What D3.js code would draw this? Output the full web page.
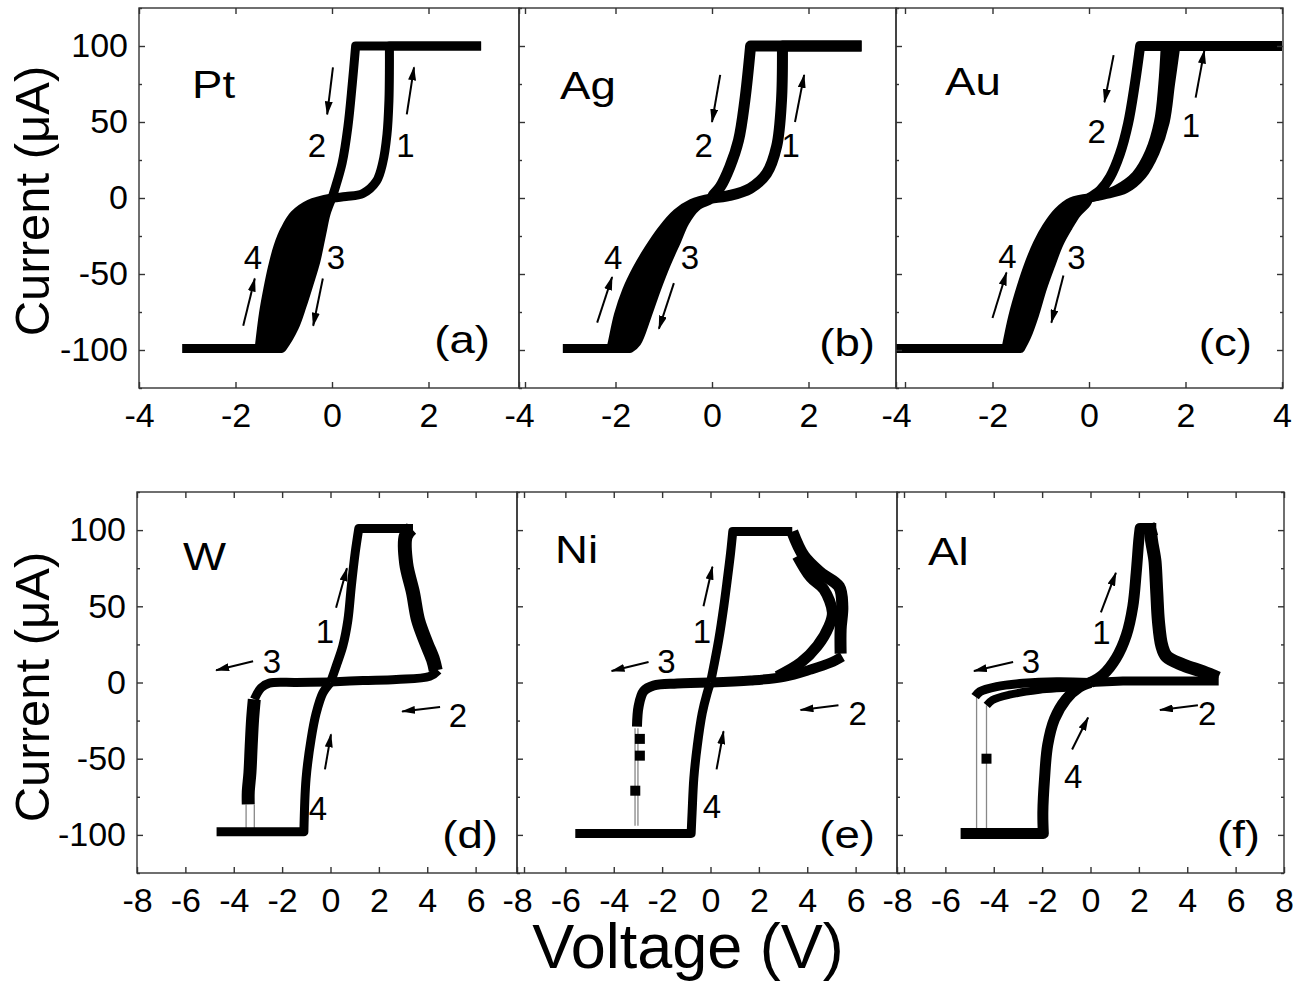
<!DOCTYPE html>
<html>
<head>
<meta charset="utf-8">
<script src="https://cdn.jsdelivr.net/npm/d3@7/dist/d3.min.js"></script>
<style>
    body { margin: 0; background: #fff; }
    svg { display: block; }
    text { font-family: Arial, "Liberation Sans", sans-serif; fill: #000; }
</style>
</head>
<body>
<svg id="chart" width="1293" height="986"></svg>
<script>
// ---- I-V sweeps, [voltage V, current uA] ----
const topTicks = [-4, -2, 0, 2, 4];
const bottomTicks = [-8, -6, -4, -2, 0, 2, 4, 6, 8];
const currentTicks = [-100, -50, 0, 50, 100];
const currentMinorTicks = [-125, -75, -25, 25, 75, 125];

// (a) Pt
const ptSweep1 = [[0, 0], [0.29, 1], [0.64, 3], [0.92, 11], [1.05, 23], [1.14, 42], [1.18, 64], [1.19, 86], [1.19, 100], [3.09, 100]];
const ptSweep2 = [[3.09, 100], [0.49, 100], [0.42, 75], [0.33, 47], [0.21, 23], [0.05, 5], [0, 0]];
const ptSweep3 = [[0, 0], [-0.12, -10], [-0.21, -23], [-0.33, -41], [-0.47, -56], [-0.62, -71], [-0.78, -85], [-1.02, -98], [-1.05, -99], [-3.1, -99]];
const ptSweep4 = [[-3.1, -99], [-1.51, -99], [-1.42, -76], [-1.33, -60], [-1.23, -45], [-1.12, -32], [-0.98, -21], [-0.78, -11], [-0.47, -4], [0, 0]];

// (b) Ag
const agSweep1 = [[0, 0], [0.37, 1.7], [0.79, 6.3], [1.13, 16], [1.34, 34], [1.44, 64], [1.46, 100], [3.1, 100]];
const agSweep2 = [[3.1, 100], [0.8, 100], [0.68, 64], [0.55, 38], [0.37, 20.5], [0.17, 7.2], [0.03, 2], [0, 0]];
const agSweep3 = [[0, 0], [-0.04, -1.3], [-0.32, -5.7], [-0.56, -15.7], [-0.73, -28], [-0.94, -43], [-1.15, -60], [-1.35, -78], [-1.56, -95], [-1.7, -99], [-3.09, -99]];
const agSweep4 = [[-3.09, -99], [-2.1, -99], [-2.08, -97], [-1.94, -77], [-1.77, -61], [-1.56, -47], [-1.32, -34], [-1.04, -21], [-0.73, -10], [-0.42, -3.5], [0, 0]];

// (c) Au
const auSweep1a = [[0, 0], [0.25, 2], [0.59, 6], [0.97, 15], [1.25, 30], [1.44, 50], [1.53, 75], [1.58, 100]];
const auSweep1b = [[0, 0], [0.32, 2], [0.76, 6], [1.1, 15], [1.37, 30], [1.58, 50], [1.69, 75], [1.8, 100], [4, 100]];
const auSweep2 = [[4, 100], [1.06, 100], [0.95, 75], [0.81, 49], [0.64, 29], [0.44, 14], [0.23, 5], [0, 0]];
const auSweep3 = [[0, 0], [-0.05, -3.4], [-0.25, -10], [-0.43, -19], [-0.62, -30], [-0.79, -44], [-0.96, -59], [-1.13, -77], [-1.29, -91], [-1.42, -99], [-4, -99]];
const auSweep4 = [[-4, -99], [-1.72, -99], [-1.58, -78], [-1.41, -59], [-1.24, -43], [-1.07, -30], [-0.88, -19], [-0.64, -9], [-0.36, -2.4], [0, 0]];

// (d) W
const wSweep1 = [[0, 0], [0.24, 11], [0.51, 24], [0.72, 41], [0.86, 63], [1.02, 85], [1.17, 101], [3.41, 101]];
const wReset = [[3.35, 101], [3.11, 96], [3.13, 78], [3.41, 59], [3.62, 41], [3.96, 26], [4.24, 15], [4.35, 8]];
const wSweep2 = [[4.45, 8], [4.1, 4], [2.72, 2], [1.34, 1.3], [0, 0.4]];
const wSweep3 = [[0, 0.4], [-1.42, 0], [-2.53, -0.4], [-2.87, -3.5], [-3.15, -11]];
const wSweep3Drop = [[-3.15, -11], [-3.22, -24], [-3.28, -42], [-3.33, -59], [-3.4, -72], [-3.4, -80]];
const wJumpA = [[-3.49, -80], [-3.49, -98]];
const wJumpB = [[-3.15, -80], [-3.15, -98]];
const wSweep4 = [[-4.71, -98], [-1.1, -98], [-1.01, -63], [-0.8, -37], [-0.59, -20], [-0.32, -7], [0, 0]];

// (e) Ni
const niSweep1 = [[0, 0], [0.14, 11], [0.34, 28], [0.55, 50], [0.69, 67], [0.83, 85], [0.92, 99], [3.38, 99]];
const niResetA = [[3.38, 99], [3.86, 83], [4.55, 72], [5.31, 63], [5.45, 50], [5.38, 35], [5.38, 19]];
const niResetB = [[3.59, 83], [4.14, 69], [4.69, 61], [5.04, 46], [4.9, 37], [4.42, 24], [3.73, 13], [2.76, 4]];
const niSweep2 = [[5.45, 17], [4.97, 13], [4.14, 8.5], [3.04, 3.7], [1.66, 1.3], [0, 0]];
const niSweep3 = [[0, 0], [-1.38, -0.7], [-2.35, -2], [-2.76, -5.7], [-2.97, -15.5], [-3.04, -29]];
const niSweep3Points = [[-2.92, -37], [-2.92, -48], [-3.11, -71]];
const niJumpA = [[-3.0, -30], [-3.0, -94]];
const niJumpB = [[-3.12, -30], [-3.12, -94]];
const niSweep4 = [[-5.59, -99], [-0.8, -99], [-0.76, -85], [-0.69, -63], [-0.55, -42], [-0.34, -20], [-0.14, -7], [0, 0]];

// (f) Al
const alSweep1 = [[0, 0], [0.51, 5], [1.06, 16], [1.48, 31], [1.75, 50], [1.89, 72], [2.0, 94], [2.05, 101], [2.72, 101]];
const alReset = [[2.72, 101], [2.53, 99], [2.67, 79], [2.74, 59], [2.81, 40], [2.95, 24], [3.15, 17], [3.84, 11.5], [4.66, 7], [5.28, 3]];
const alSweep2 = [[5.3, 1], [4.1, 1], [1.34, 1], [0, 0]];
const alSweep3a = [[0, 0], [-1.4, 0.5], [-2.78, -0.5], [-3.88, -2.7], [-4.57, -6], [-4.77, -9.3]];
const alSweep3b = [[0, 0], [-0.59, -2.6], [-2.11, -4.8], [-3.35, -8], [-4.05, -11.5], [-4.29, -15]];
const alSweep3Points = [[-4.3, -50]];
const alJumpA = [[-4.71, -9], [-4.71, -99]];
const alJumpB = [[-4.3, -15], [-4.3, -99]];
const alSweep4 = [[-5.37, -99], [-1.95, -99], [-1.97, -85], [-1.9, -63], [-1.77, -41], [-1.49, -24], [-1.01, -11], [-0.46, -3], [0, 0]];

// sweep numbers [label, V, I] and direction arrows [from, to]
const ptMarks = [["1", 1.52, 27], ["2", -0.31, 27], ["3", 0.08, -47], ["4", -1.64, -47]];
const ptArrows = [[[1.55, 55], [1.7, 86]], [[0.02, 86], [-0.1, 55]], [[-0.19, -53], [-0.39, -84]], [[-1.84, -84], [-1.6, -53]]];
const agMarks = [["1", 1.63, 27], ["2", -0.17, 27], ["3", -0.46, -47], ["4", -2.05, -47]];
const agArrows = [[[1.72, 50], [1.91, 81]], [[0.17, 81], [0, 50]], [[-0.79, -56], [-1.1, -86]], [[-2.38, -82], [-2.07, -52]]];
const auMarks = [["1", 2.11, 40], ["2", 0.16, 36], ["3", -0.26, -47], ["4", -1.69, -46]];
const auArrows = [[[2.21, 66], [2.39, 97]], [[0.51, 94], [0.32, 63]], [[-0.53, -51], [-0.78, -82]], [[-2.0, -79], [-1.71, -49]]];
const wMarks = [["1", -0.23, 26], ["2", 5.27, -29], ["3", -2.42, 6], ["4", -0.52, -90]];
const wArrows = [[[0.23, 49], [0.68, 75]], [[4.53, -16], [2.96, -19]], [[-3.2, 14], [-4.73, 8]], [[-0.23, -57], [0.02, -34]]];
const niMarks = [["1", -0.35, 26], ["2", 6.08, -28], ["3", -1.82, 6], ["4", 0.06, -89]];
const niArrows = [[[-0.29, 50], [0.08, 76]], [[5.29, -15], [3.72, -18]], [[-2.56, 13.5], [-4.09, 7.5]], [[0.25, -57], [0.54, -32]]];
const alMarks = [["1", 0.45, 25], ["2", 4.82, -28], ["3", -2.46, 6], ["4", -0.72, -69]];
const alArrows = [[[0.43, 46], [1.05, 72]], [[4.44, -15], [2.87, -18]], [[-3.2, 13.5], [-4.82, 7.5]], [[-0.76, -44], [-0.1, -23]]];

// ---- layout ----
const rows = {
    top: { top: 8, bottom: 388, domain: [-4, 4], ticks: topTicks, width: 386 },
    bottom: { top: 492, bottom: 873, domain: [-8, 8], ticks: bottomTicks, width: 387 }
};

const panels = [
    { row: "top", left: 139, right: 519, yLabels: true, name: "Pt", nameAt: [53, 90], tag: "(a)", tagAt: [29, 345],
      bands: [[ptSweep3, ptSweep4]],
      curves: [[ptSweep1, 9], [ptSweep2, 9], [ptSweep3, 9], [ptSweep4, 9]],
      marks: ptMarks, arrows: ptArrows },
    { row: "top", left: 519, right: 896, name: "Ag", nameAt: [41, 91], tag: "(b)", tagAt: [21, 348],
      bands: [[agSweep3, agSweep4]],
      curves: [[agSweep1, 11], [agSweep2, 11], [agSweep3, 9], [agSweep4, 9]],
      marks: agMarks, arrows: agArrows },
    { row: "top", left: 896, right: 1283, rightAxis: true, name: "Au", nameAt: [49, 87], tag: "(c)", tagAt: [31, 348],
      bands: [[auSweep1a, auSweep1b.slice().reverse()], [auSweep3, auSweep4]],
      curves: [[auSweep1a, 9], [auSweep1b, 9], [auSweep2, 10], [auSweep3, 9], [auSweep4, 9]],
      marks: auMarks, arrows: auArrows },
    { row: "bottom", left: 137, right: 517, yLabels: true, name: "W", nameAt: [46, 78], tag: "(d)", tagAt: [19, 356],
      curves: [[wSweep1, 9], [wReset, 14], [wSweep2, 9], [wSweep3, 9], [wSweep3Drop, 13], [wSweep4, 9]],
      jumps: [wJumpA, wJumpB],
      marks: wMarks, arrows: wArrows },
    { row: "bottom", left: 517, right: 897, name: "Ni", nameAt: [38, 71], tag: "(e)", tagAt: [22, 356],
      curves: [[niSweep1, 9], [niResetA, 12], [niResetB, 11], [niSweep2, 10], [niSweep3, 10], [niSweep4, 9]],
      jumps: [niJumpA, niJumpB], points: niSweep3Points,
      marks: niMarks, arrows: niArrows },
    { row: "bottom", left: 897, right: 1284, rightAxis: true, name: "Al", nameAt: [31, 73], tag: "(f)", tagAt: [24, 356],
      curves: [[alSweep1, 11], [alReset, 13], [alSweep2, 9], [alSweep3a, 9], [alSweep3b, 8], [alSweep4, 11]],
      jumps: [alJumpA, alJumpB], points: alSweep3Points,
      marks: alMarks, arrows: alArrows }
];

const svg = d3.select("#chart");
const frameColour = "#333";
const labelStretch = 1.2;

svg.append("defs")
    .append("marker")
    .attr("id", "head")
    .attr("viewBox", "0 0 14 8")
    .attr("refX", 13)
    .attr("refY", 4)
    .attr("markerWidth", 14)
    .attr("markerHeight", 8)
    .attr("markerUnits", "userSpaceOnUse")
    .attr("orient", "auto")
    .append("path")
    .attr("d", "M0,0L14,4L0,8Z")
    .attr("fill", "#000");

panels.forEach((p, i) => {
    const row = rows[p.row];
    const x = d3.scaleLinear().domain(row.domain).range([p.left, p.left + row.width]);
    const y = d3.scaleLinear().domain([-125, 125]).range([row.bottom, row.top]);
    const straight = d3.line().x((d) => x(d[0])).y((d) => y(d[1]));
    const smooth = d3.line().x((d) => x(d[0])).y((d) => y(d[1])).curve(d3.curveCatmullRom.alpha(0.5));

    // flat compliance stretches stay straight, the rest is smoothed
    const sweepPath = (pts) => {
        const pieces = [];
        let run = [pts[0]];
        for (let k = 1; k < pts.length; k++) {
            if (pts[k][1] === pts[k - 1][1]) {
                if (run.length > 1) pieces.push(smooth(run));
                pieces.push(straight([pts[k - 1], pts[k]]));
                run = [pts[k]];
            } else {
                run.push(pts[k]);
            }
        }
        if (run.length > 1) pieces.push(smooth(run));
        return pieces.map((s, j) => (j === 0 ? s : "L" + s.slice(1))).join("");
    };

    const clipId = `clip-${i}`;
    svg.append("clipPath").attr("id", clipId)
        .append("rect")
        .attr("x", p.left).attr("y", row.top)
        .attr("width", p.right - p.left).attr("height", row.bottom - row.top);

    const g = svg.append("g");
    const plot = g.append("g").attr("clip-path", `url(#${clipId})`);

    (p.bands || []).forEach(([a, b]) => {
        plot.append("path")
            .attr("d", sweepPath(a.concat(b)) + "Z")
            .attr("fill", "#000");
    });

    (p.jumps || []).forEach((pts) => {
        plot.append("path")
            .attr("d", straight(pts))
            .attr("fill", "none")
            .attr("stroke", "#888")
            .attr("stroke-width", 1.3);
    });

    p.curves.forEach(([pts, w]) => {
        plot.append("path")
            .attr("d", sweepPath(pts))
            .attr("fill", "none")
            .attr("stroke", "#000")
            .attr("stroke-width", w)
            .attr("stroke-linejoin", "round");
    });

    plot.selectAll("rect.pt")
        .data(p.points || [])
        .join("rect")
        .attr("class", "pt")
        .attr("x", (d) => x(d[0]) - 5)
        .attr("y", (d) => y(d[1]) - 5)
        .attr("width", 10)
        .attr("height", 10)
        .attr("fill", "#000");

    // frame
    g.append("rect")
        .attr("x", p.left).attr("y", row.top)
        .attr("width", p.right - p.left).attr("height", row.bottom - row.top)
        .attr("fill", "none")
        .attr("stroke", frameColour)
        .attr("stroke-width", 1.4);

    const styleAxis = (sel) => {
        sel.select(".domain").remove();
        sel.selectAll(".tick line").attr("stroke", frameColour).attr("stroke-width", 1.4);
        sel.selectAll(".tick text")
            .attr("fill", "#000")
            .attr("font-size", 34)
            .attr("font-family", 'Arial, "Liberation Sans", sans-serif');
    };

    // the last label of a panel sits under the first label of its right neighbour
    const lastX = row.domain[1];
    g.append("g")
        .attr("transform", `translate(0, ${row.bottom})`)
        .call(d3.axisBottom(x).tickValues(row.ticks).tickSize(-6).tickSizeOuter(0).tickPadding(15)
            .tickFormat((d) => (d === lastX && !p.rightAxis ? "" : String(d))))
        .call(styleAxis);

    g.append("g")
        .attr("transform", `translate(0, ${row.top})`)
        .call(d3.axisTop(x).tickValues(row.ticks).tickSize(-6).tickSizeOuter(0).tickFormat(""))
        .call(styleAxis);

    g.append("g")
        .attr("transform", `translate(${p.left}, 0)`)
        .call(d3.axisLeft(y).tickValues(currentTicks).tickSize(-6).tickSizeOuter(0).tickPadding(11)
            .tickFormat((d) => (p.yLabels ? String(d) : "")))
        .call(styleAxis);

    g.append("g")
        .attr("transform", `translate(${p.left}, 0)`)
        .call(d3.axisLeft(y).tickValues(currentMinorTicks).tickSize(-3).tickSizeOuter(0).tickFormat(""))
        .call(styleAxis);

    if (p.rightAxis) {
        g.append("g")
            .attr("transform", `translate(${p.right}, 0)`)
            .call(d3.axisRight(y).tickValues(currentTicks).tickSize(-6).tickSizeOuter(0).tickFormat(""))
            .call(styleAxis);
        g.append("g")
            .attr("transform", `translate(${p.right}, 0)`)
            .call(d3.axisRight(y).tickValues(currentMinorTicks).tickSize(-3).tickSizeOuter(0).tickFormat(""))
            .call(styleAxis);
    }

    // metal name and panel tag (wide lettering as in the original)
    g.append("text")
        .attr("transform", `translate(${p.left + p.nameAt[0]}, ${row.top + p.nameAt[1]}) scale(${labelStretch}, 1)`)
        .attr("font-size", 38)
        .text(p.name);

    g.append("text")
        .attr("transform", `translate(${p.right - p.tagAt[0]}, ${row.top + p.tagAt[1]}) scale(${labelStretch}, 1)`)
        .attr("text-anchor", "end")
        .attr("font-size", 38)
        .text(p.tag);

    // sweep order numbers and arrows
    g.selectAll("text.mark")
        .data(p.marks)
        .join("text")
        .attr("class", "mark")
        .attr("x", (d) => x(d[1]))
        .attr("y", (d) => y(d[2]))
        .attr("text-anchor", "middle")
        .attr("font-size", 33)
        .text((d) => d[0]);

    g.selectAll("line.arrow")
        .data(p.arrows)
        .join("line")
        .attr("class", "arrow")
        .attr("x1", (d) => x(d[0][0]))
        .attr("y1", (d) => y(d[0][1]))
        .attr("x2", (d) => x(d[1][0]))
        .attr("y2", (d) => y(d[1][1]))
        .attr("stroke", "#000")
        .attr("stroke-width", 2)
        .attr("marker-end", "url(#head)");
});

// axis titles
[[49, 201], [49, 687]].forEach(([tx, ty]) => {
    svg.append("text")
        .attr("transform", `translate(${tx}, ${ty}) rotate(-90)`)
        .attr("text-anchor", "middle")
        .attr("font-size", 49)
        .text("Current (\u03bcA)");
});

svg.append("text")
    .attr("x", 688)
    .attr("y", 968)
    .attr("text-anchor", "middle")
    .attr("font-size", 63)
    .text("Voltage (V)");
</script>
</body>
</html>
